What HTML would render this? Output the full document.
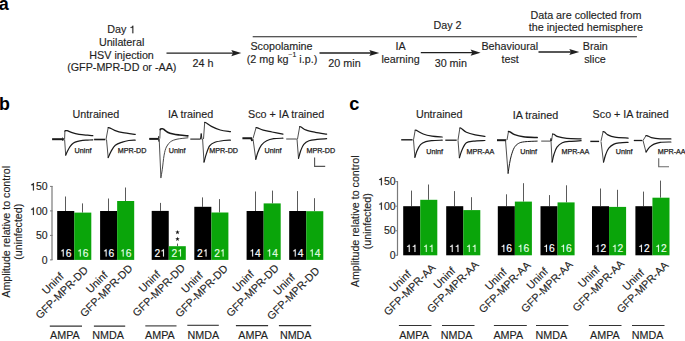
<!DOCTYPE html>
<html><head><meta charset="utf-8"><style>
html,body{margin:0;padding:0;background:#fff;width:685px;height:341px;overflow:hidden}
svg{display:block;font-family:"Liberation Sans", sans-serif}
</style></head><body>
<svg width="685" height="341" viewBox="0 0 685 341">
<rect width="685" height="341" fill="#fff"/>
<text x="-1.2" y="10" font-size="18" text-anchor="start" font-weight="bold" fill="#000">a</text>
<text x="107.36" y="33.2" font-size="10.75" fill="#1f1f1f" stroke="#1f1f1f" stroke-width="0.15" xml:space="preserve">Day </text>
<path transform="translate(129.46,33.2) scale(0.01075,-0.01075)" d="M359,0 L271,0 L271,502 L101,502 L101,566 C196,570 256,610 273,703 L359,703 Z" fill="#1f1f1f" stroke="#1f1f1f" stroke-width="13.95"/>
<text x="121.6" y="45.7" font-size="10.75" text-anchor="middle" font-weight="normal" fill="#1f1f1f" stroke="#1f1f1f" stroke-width="0.15">Unilateral</text>
<text x="121.6" y="58.5" font-size="10.75" text-anchor="middle" font-weight="normal" fill="#1f1f1f" stroke="#1f1f1f" stroke-width="0.15">HSV injection</text>
<text x="121.8" y="71" font-size="10.75" text-anchor="middle" font-weight="normal" fill="#1f1f1f" stroke="#1f1f1f" stroke-width="0.15">(GFP-MPR-DD or -AA)</text>
<text x="203" y="67" font-size="10.75" text-anchor="middle" font-weight="normal" fill="#1f1f1f" stroke="#1f1f1f" stroke-width="0.15">24 h</text>
<text x="281.5" y="50.2" font-size="10.75" text-anchor="middle" font-weight="normal" fill="#1f1f1f" stroke="#1f1f1f" stroke-width="0.15">Scopolamine</text>
<text x="344.5" y="67" font-size="10.75" text-anchor="middle" font-weight="normal" fill="#1f1f1f" stroke="#1f1f1f" stroke-width="0.15">20 min</text>
<text x="400.5" y="50.2" font-size="10.75" text-anchor="middle" font-weight="normal" fill="#1f1f1f" stroke="#1f1f1f" stroke-width="0.15">IA</text>
<text x="400.5" y="62.8" font-size="10.75" text-anchor="middle" font-weight="normal" fill="#1f1f1f" stroke="#1f1f1f" stroke-width="0.15">learning</text>
<text x="450.8" y="66.9" font-size="10.75" text-anchor="middle" font-weight="normal" fill="#1f1f1f" stroke="#1f1f1f" stroke-width="0.15">30 min</text>
<text x="447.5" y="28.5" font-size="10.75" text-anchor="middle" font-weight="normal" fill="#1f1f1f" stroke="#1f1f1f" stroke-width="0.15">Day 2</text>
<text x="509.8" y="50.1" font-size="10.75" text-anchor="middle" font-weight="normal" fill="#1f1f1f" stroke="#1f1f1f" stroke-width="0.15">Behavioural</text>
<text x="510.2" y="62.8" font-size="10.75" text-anchor="middle" font-weight="normal" fill="#1f1f1f" stroke="#1f1f1f" stroke-width="0.15">test</text>
<text x="595.3" y="50.3" font-size="10.75" text-anchor="middle" font-weight="normal" fill="#1f1f1f" stroke="#1f1f1f" stroke-width="0.15">Brain</text>
<text x="595" y="62.6" font-size="10.75" text-anchor="middle" font-weight="normal" fill="#1f1f1f" stroke="#1f1f1f" stroke-width="0.15">slice</text>
<text x="586" y="18.5" font-size="10.75" text-anchor="middle" font-weight="normal" fill="#1f1f1f" stroke="#1f1f1f" stroke-width="0.15">Data are collected from</text>
<text x="585.8" y="30.8" font-size="10.75" text-anchor="middle" font-weight="normal" fill="#1f1f1f" stroke="#1f1f1f" stroke-width="0.15">the injected hemisphere</text>
<text x="282.0" y="62.9" font-size="10.75" text-anchor="middle" fill="#1f1f1f" stroke="#1f1f1f" stroke-width="0.15">(2 mg kg<tspan font-size="6.8" dy="-5.6">&#8722;1</tspan><tspan dy="5.6"> i.p.)</tspan></text>
<line x1="252.7" y1="36.7" x2="636.9" y2="36.7" stroke="#1f1f1f" stroke-width="1.1"/>
<line x1="166.5" y1="53.1" x2="235.3" y2="53.1" stroke="#1f1f1f" stroke-width="1.35"/>
<path d="M241.3,53.1 L231.3,50 L233,53.1 L231.3,56.2 Z" fill="#1f1f1f"/>
<line x1="319.5" y1="53" x2="373.3" y2="53" stroke="#1f1f1f" stroke-width="1.35"/>
<path d="M379.3,53 L369.3,49.9 L371,53 L369.3,56.1 Z" fill="#1f1f1f"/>
<line x1="420.8" y1="52.65" x2="474.6" y2="52.65" stroke="#1f1f1f" stroke-width="1.35"/>
<path d="M480.6,52.65 L470.6,49.55 L472.3,52.65 L470.6,55.75 Z" fill="#1f1f1f"/>
<line x1="538.5" y1="52" x2="573.3" y2="52" stroke="#1f1f1f" stroke-width="1.45"/>
<path d="M579.3,52 L569.3,48.9 L571,52 L569.3,55.1 Z" fill="#1f1f1f"/>
<text x="-1.1" y="109.6" font-size="17.8" text-anchor="start" font-weight="bold" fill="#000">b</text>
<text x="349.2" y="110.1" font-size="18.2" text-anchor="start" font-weight="bold" fill="#000">c</text>
<text x="95.9" y="117.6" font-size="10.75" text-anchor="middle" font-weight="normal" fill="#1f1f1f" stroke="#1f1f1f" stroke-width="0.15">Untrained</text>
<text x="190.6" y="117.5" font-size="10.75" text-anchor="middle" font-weight="normal" fill="#1f1f1f" stroke="#1f1f1f" stroke-width="0.15">IA trained</text>
<text x="286.1" y="117.6" font-size="10.75" text-anchor="middle" font-weight="normal" fill="#1f1f1f" stroke="#1f1f1f" stroke-width="0.15">Sco + IA trained</text>
<text x="439.2" y="118.1" font-size="10.75" text-anchor="middle" font-weight="normal" fill="#1f1f1f" stroke="#1f1f1f" stroke-width="0.15">Untrained</text>
<text x="535.4" y="118.5" font-size="10.75" text-anchor="middle" font-weight="normal" fill="#1f1f1f" stroke="#1f1f1f" stroke-width="0.15">IA trained</text>
<text x="630.7" y="117.8" font-size="10.75" text-anchor="middle" font-weight="normal" fill="#1f1f1f" stroke="#1f1f1f" stroke-width="0.15">Sco + IA trained</text>
<path d="M52.1,139.2 L63.4,139.2" fill="none" stroke="#1a1a1a" stroke-width="2"/>
<path d="M62.6,137.6 L63.6,139.2 L62.6,140.9" fill="none" stroke="#1a1a1a" stroke-width="1"/>
<path d="M64.6,139.2 L64.9,131.2" fill="none" stroke="#3a3a3a" stroke-width="0.9"/>
<path d="M64.6,139.4 L65.7,155.2" fill="none" stroke="#3a3a3a" stroke-width="0.9"/>
<path d="M64.9,131.2 C64.97,131.1 64.92,130.68 65.3,130.6 C65.68,130.52 66.07,130.35 67.2,130.7 C68.33,131.05 70.12,132.1 72.1,132.7 C74.08,133.3 76.52,133.88 79.1,134.3 C81.68,134.72 85.32,134.98 87.6,135.2 C89.88,135.42 91.93,135.53 92.8,135.6" fill="none" stroke="#1a1a1a" stroke-width="1.25" stroke-linejoin="round" stroke-linecap="round"/>
<path d="M65.7,155.2 C65.95,154.63 66.48,153.23 67.2,151.8 C67.92,150.37 68.95,148.07 70,146.6 C71.05,145.13 72.22,143.88 73.5,143 C74.78,142.12 76.18,141.73 77.7,141.3 C79.22,140.87 80.95,140.6 82.6,140.4 C84.25,140.2 85.9,140.2 87.6,140.1 C89.3,140 91.93,139.85 92.8,139.8" fill="none" stroke="#1a1a1a" stroke-width="1.2" stroke-linejoin="round" stroke-linecap="round"/>
<text x="74.6" y="153.4" font-size="7.2" text-anchor="start" font-weight="normal" fill="#222" stroke="#222" stroke-width="0.25">Uninf</text>
<path d="M94.1,139.5 L105.3,139.5" fill="none" stroke="#1a1a1a" stroke-width="1.6"/>
<path d="M106,139.5 L108.2,127.6" fill="none" stroke="#3a3a3a" stroke-width="0.9"/>
<path d="M106.5,139.5 L108.2,157.6" fill="none" stroke="#3a3a3a" stroke-width="0.9"/>
<path d="M108.2,127.6 C108.42,127.63 108.43,127.35 109.5,127.8 C110.57,128.25 112.37,129.48 114.6,130.3 C116.83,131.12 119.47,132.02 122.9,132.7 C126.33,133.38 133.15,134.12 135.2,134.4" fill="none" stroke="#1a1a1a" stroke-width="1.25" stroke-linejoin="round" stroke-linecap="round"/>
<path d="M108.2,157.6 C108.7,156.52 110.02,153.15 111.2,151.1 C112.38,149.05 113.45,146.8 115.3,145.3 C117.15,143.8 120.07,142.9 122.3,142.1 C124.53,141.3 126.55,140.82 128.7,140.5 C130.85,140.18 134.12,140.25 135.2,140.2" fill="none" stroke="#1a1a1a" stroke-width="1.2" stroke-linejoin="round" stroke-linecap="round"/>
<text x="117.7" y="153.2" font-size="7.2" text-anchor="start" font-weight="normal" fill="#222" stroke="#222" stroke-width="0.25">MPR-DD</text>
<path d="M149.2,138.9 L158.4,138.9" fill="none" stroke="#1a1a1a" stroke-width="2"/>
<path d="M158.6,136.2 L158.8,141.6" fill="none" stroke="#1a1a1a" stroke-width="1"/>
<path d="M159.8,138.6 L160.2,129.6" fill="none" stroke="#3a3a3a" stroke-width="0.9"/>
<path d="M159.2,139 L160.9,177.7" fill="none" stroke="#3a3a3a" stroke-width="0.9"/>
<path d="M160.2,129.6 C160.28,129.48 160.37,129.05 160.7,128.9 C161.03,128.75 161.73,128.65 162.2,128.7 C162.67,128.75 162.6,128.62 163.5,129.2 C164.4,129.78 165.98,131.4 167.6,132.2 C169.22,133 171.2,133.53 173.2,134 C175.2,134.47 177.15,134.68 179.6,135 C182.05,135.32 186.52,135.75 187.9,135.9" fill="none" stroke="#1a1a1a" stroke-width="1.6" stroke-linejoin="round" stroke-linecap="round"/>
<path d="M160.9,177.7 C161.13,176.3 161.77,173.05 162.3,169.3 C162.83,165.55 163.42,158.92 164.1,155.2 C164.78,151.48 165.33,149.23 166.4,147 C167.47,144.77 168.73,143.1 170.5,141.8 C172.27,140.5 174.1,139.87 177,139.2 C179.9,138.53 186.08,138.03 187.9,137.8" fill="none" stroke="#333" stroke-width="0.9" stroke-linejoin="round" stroke-linecap="round"/>
<text x="168.7" y="153.4" font-size="7.2" text-anchor="start" font-weight="normal" fill="#222" stroke="#222" stroke-width="0.25">Uninf</text>
<path d="M190.3,139.1 L200.5,139.1" fill="none" stroke="#1a1a1a" stroke-width="1.1"/>
<path d="M200.5,139.1 L201.2,133.5 L202,139.5" fill="none" stroke="#1a1a1a" stroke-width="1"/>
<path d="M203.5,139 L204.7,122.4" fill="none" stroke="#3a3a3a" stroke-width="0.9"/>
<path d="M202.6,139 L204,162.2" fill="none" stroke="#3a3a3a" stroke-width="0.9"/>
<path d="M204.7,122.4 C204.92,122.47 204.88,122.13 206,122.8 C207.12,123.47 209.03,125.2 211.4,126.4 C213.77,127.6 217.03,129.12 220.2,130 C223.37,130.88 228.7,131.42 230.4,131.7" fill="none" stroke="#1a1a1a" stroke-width="1.25" stroke-linejoin="round" stroke-linecap="round"/>
<path d="M204,162.2 C204.35,160.93 205.17,157.33 206.1,154.6 C207.03,151.87 208.13,147.85 209.6,145.8 C211.07,143.75 212.55,143.18 214.9,142.3 C217.25,141.42 221.12,140.85 223.7,140.5 C226.28,140.15 229.28,140.25 230.4,140.2" fill="none" stroke="#1a1a1a" stroke-width="1.2" stroke-linejoin="round" stroke-linecap="round"/>
<text x="209.3" y="153.4" font-size="7.2" text-anchor="start" font-weight="normal" fill="#222" stroke="#222" stroke-width="0.25">MPR-DD</text>
<path d="M242.4,138.2 L251.2,138.2 L252.2,141" fill="none" stroke="#1a1a1a" stroke-width="2"/>
<path d="M253,138.5 L256.1,127.6" fill="none" stroke="#3a3a3a" stroke-width="0.9"/>
<path d="M253,139 L255.8,159.3" fill="none" stroke="#3a3a3a" stroke-width="0.9"/>
<path d="M256.1,127.6 C256.33,127.63 256.32,127.37 257.5,127.8 C258.68,128.23 260.78,129.5 263.2,130.2 C265.62,130.9 268.72,131.35 272,132 C275.28,132.65 281.08,133.75 282.9,134.1" fill="none" stroke="#1a1a1a" stroke-width="1.25" stroke-linejoin="round" stroke-linecap="round"/>
<path d="M255.8,159.3 C256.15,158.12 256.97,154.55 257.9,152.2 C258.83,149.85 259.93,147.1 261.4,145.2 C262.87,143.3 264.65,141.88 266.7,140.8 C268.75,139.72 271,139.13 273.7,138.7 C276.4,138.27 281.37,138.28 282.9,138.2" fill="none" stroke="#1a1a1a" stroke-width="1.2" stroke-linejoin="round" stroke-linecap="round"/>
<text x="264.6" y="153.1" font-size="7.2" text-anchor="start" font-weight="normal" fill="#222" stroke="#222" stroke-width="0.25">Uninf</text>
<path d="M286.2,139 L296.7,139" fill="none" stroke="#555" stroke-width="1.1"/>
<path d="M297.5,139 L299.7,126.7" fill="none" stroke="#3a3a3a" stroke-width="0.9"/>
<path d="M297,139 L298.5,158.4" fill="none" stroke="#3a3a3a" stroke-width="0.9"/>
<path d="M299.7,126.7 C299.92,126.75 299.88,126.42 301,127 C302.12,127.58 304.03,129.32 306.4,130.2 C308.77,131.08 311.83,131.65 315.2,132.3 C318.57,132.95 324.7,133.8 326.6,134.1" fill="none" stroke="#1a1a1a" stroke-width="1.25" stroke-linejoin="round" stroke-linecap="round"/>
<path d="M298.5,158.4 C298.88,157.08 299.92,152.85 300.8,150.5 C301.68,148.15 302.43,145.92 303.8,144.3 C305.17,142.68 306.8,141.62 309,140.8 C311.2,139.98 314.07,139.75 317,139.4 C319.93,139.05 325,138.82 326.6,138.7" fill="none" stroke="#1a1a1a" stroke-width="1.2" stroke-linejoin="round" stroke-linecap="round"/>
<text x="306.4" y="153.1" font-size="7.2" text-anchor="start" font-weight="normal" fill="#222" stroke="#222" stroke-width="0.25">MPR-DD</text>
<path d="M314.6,157.5 L314.6,166.4 L325.2,166.4" fill="none" stroke="#555" stroke-width="1.1"/>
<path d="M401.2,139.8 L412.6,139.8" fill="none" stroke="#1a1a1a" stroke-width="1.4"/>
<path d="M413.5,139.8 L415.2,130.2" fill="none" stroke="#3a3a3a" stroke-width="0.9"/>
<path d="M413.5,140 L414.9,157.4" fill="none" stroke="#3a3a3a" stroke-width="0.9"/>
<path d="M415.2,130.2 C415.42,130.23 415.17,129.77 416.5,130.4 C417.83,131.03 420.62,133.05 423.2,134 C425.78,134.95 428.83,135.6 432,136.1 C435.17,136.6 440.5,136.85 442.2,137" fill="none" stroke="#1a1a1a" stroke-width="1.25" stroke-linejoin="round" stroke-linecap="round"/>
<path d="M414.9,157.4 C415.25,156.3 416.07,152.93 417,150.8 C417.93,148.67 419.03,146.13 420.5,144.6 C421.97,143.07 423.88,142.27 425.8,141.6 C427.72,140.93 429.27,140.83 432,140.6 C434.73,140.37 440.5,140.27 442.2,140.2" fill="none" stroke="#1a1a1a" stroke-width="1.2" stroke-linejoin="round" stroke-linecap="round"/>
<text x="426.3" y="154.3" font-size="7.2" text-anchor="start" font-weight="normal" fill="#222" stroke="#222" stroke-width="0.25">Uninf</text>
<path d="M445.3,140.2 L456.7,140.2" fill="none" stroke="#1a1a1a" stroke-width="1.3"/>
<path d="M458,140 L459.9,127.9" fill="none" stroke="#3a3a3a" stroke-width="0.9"/>
<path d="M458,140.2 L459.4,157.8" fill="none" stroke="#3a3a3a" stroke-width="0.9"/>
<path d="M459.9,127.9 C460.08,127.95 459.92,127.47 461,128.2 C462.08,128.93 464.03,131.18 466.4,132.3 C468.77,133.42 472.12,134.23 475.2,134.9 C478.28,135.57 483.28,136.07 484.9,136.3" fill="none" stroke="#1a1a1a" stroke-width="1.25" stroke-linejoin="round" stroke-linecap="round"/>
<path d="M459.4,157.8 C459.83,156.48 460.83,152.4 462,149.9 C463.17,147.4 464.5,144.27 466.4,142.8 C468.3,141.33 470.32,141.48 473.4,141.1 C476.48,140.72 482.98,140.6 484.9,140.5" fill="none" stroke="#1a1a1a" stroke-width="1.2" stroke-linejoin="round" stroke-linecap="round"/>
<text x="466.4" y="153.9" font-size="7.2" text-anchor="start" font-weight="normal" fill="#222" stroke="#222" stroke-width="0.25">MPR-AA</text>
<path d="M497,140.2 L506.2,140.2" fill="none" stroke="#1a1a1a" stroke-width="2"/>
<path d="M507,140 L508.5,131.4" fill="none" stroke="#3a3a3a" stroke-width="0.9"/>
<path d="M505.5,140.2 L508.1,173.4" fill="none" stroke="#3a3a3a" stroke-width="0.9"/>
<path d="M508.5,131.4 C508.75,131.47 508.98,131.27 510,131.8 C511.02,132.33 512.37,133.78 514.6,134.6 C516.83,135.42 519.63,136.2 523.4,136.7 C527.17,137.2 534.9,137.45 537.2,137.6" fill="none" stroke="#1a1a1a" stroke-width="1.5" stroke-linejoin="round" stroke-linecap="round"/>
<path d="M508.1,173.4 C508.35,171.73 509.05,166.43 509.6,163.4 C510.15,160.37 510.62,157.83 511.4,155.2 C512.18,152.57 513.13,149.55 514.3,147.6 C515.47,145.65 516.73,144.47 518.4,143.5 C520.07,142.53 521.17,142.2 524.3,141.8 C527.43,141.4 535.05,141.22 537.2,141.1" fill="none" stroke="#1a1a1a" stroke-width="1.0" stroke-linejoin="round" stroke-linecap="round"/>
<text x="520.3" y="153.9" font-size="7.2" text-anchor="start" font-weight="normal" fill="#222" stroke="#222" stroke-width="0.25">Uninf</text>
<path d="M541.2,141.1 L550.5,141.1" fill="none" stroke="#555" stroke-width="1.1"/>
<path d="M550.5,141.1 L551,138.4 L551.6,141" fill="none" stroke="#1a1a1a" stroke-width="1"/>
<path d="M551.5,141 L552.6,134" fill="none" stroke="#3a3a3a" stroke-width="0.9"/>
<path d="M551,141 L552.1,162.2" fill="none" stroke="#3a3a3a" stroke-width="0.9"/>
<path d="M552.6,134 C552.83,134.05 553.12,133.85 554,134.3 C554.88,134.75 555.78,136.02 557.9,136.7 C560.02,137.38 562.83,138.05 566.7,138.4 C570.57,138.75 578.7,138.73 581.1,138.8" fill="none" stroke="#1a1a1a" stroke-width="1.25" stroke-linejoin="round" stroke-linecap="round"/>
<path d="M552.1,162.2 C552.42,160.88 553.18,156.8 554,154.3 C554.82,151.8 555.62,149.12 557,147.2 C558.38,145.28 560.13,143.78 562.3,142.8 C564.47,141.82 566.87,141.65 570,141.3 C573.13,140.95 579.25,140.8 581.1,140.7" fill="none" stroke="#1a1a1a" stroke-width="1.2" stroke-linejoin="round" stroke-linecap="round"/>
<text x="561.4" y="153.9" font-size="7.2" text-anchor="start" font-weight="normal" fill="#222" stroke="#222" stroke-width="0.25">MPR-AA</text>
<path d="M590.3,141.4 L599.1,141.4" fill="none" stroke="#1a1a1a" stroke-width="1.4"/>
<path d="M601,141 L603.1,131.7" fill="none" stroke="#3a3a3a" stroke-width="0.9"/>
<path d="M601,141.4 L603.5,162.2" fill="none" stroke="#3a3a3a" stroke-width="0.9"/>
<path d="M603.1,131.7 C603.33,131.75 603.7,131.47 604.5,132 C605.3,132.53 606.17,134.03 607.9,134.9 C609.63,135.77 611.53,136.67 614.9,137.2 C618.27,137.73 625.9,137.95 628.1,138.1" fill="none" stroke="#1a1a1a" stroke-width="1.25" stroke-linejoin="round" stroke-linecap="round"/>
<path d="M603.5,162.2 C603.88,160.88 604.92,156.65 605.8,154.3 C606.68,151.95 607.43,149.8 608.8,148.1 C610.17,146.4 612.13,144.98 614,144.1 C615.87,143.22 617.65,143.1 620,142.8 C622.35,142.5 626.75,142.38 628.1,142.3" fill="none" stroke="#1a1a1a" stroke-width="1.2" stroke-linejoin="round" stroke-linecap="round"/>
<text x="615.8" y="153.9" font-size="7.2" text-anchor="start" font-weight="normal" fill="#222" stroke="#222" stroke-width="0.25">Uninf</text>
<path d="M633.8,140.5 L642.3,140.5" fill="none" stroke="#1a1a1a" stroke-width="1.3"/>
<path d="M643,140.5 L646,135.6" fill="none" stroke="#3a3a3a" stroke-width="0.9"/>
<path d="M643,140.5 L646,152.1" fill="none" stroke="#3a3a3a" stroke-width="0.9"/>
<path d="M646,135.6 C646.25,135.63 646.6,135.47 647.5,135.8 C648.4,136.13 649.28,137.1 651.4,137.6 C653.52,138.1 656.95,138.58 660.2,138.8 C663.45,139.02 669.12,138.88 670.9,138.9" fill="none" stroke="#1a1a1a" stroke-width="1.25" stroke-linejoin="round" stroke-linecap="round"/>
<path d="M646,152.1 C646.6,151.28 648.27,148.53 649.6,147.2 C650.93,145.87 652.23,144.92 654,144.1 C655.77,143.28 657.38,142.65 660.2,142.3 C663.02,141.95 669.12,142.05 670.9,142" fill="none" stroke="#1a1a1a" stroke-width="1.2" stroke-linejoin="round" stroke-linecap="round"/>
<text x="657.7" y="154.3" font-size="7.2" text-anchor="start" font-weight="normal" fill="#222" stroke="#222" stroke-width="0.25">MPR-AA</text>
<path d="M658.7,158.2 L658.7,166.7 L669,166.7" fill="none" stroke="#6a6a6a" stroke-width="1.15"/>
<line x1="52" y1="185.9" x2="52" y2="259.9" stroke="#7a7a7a" stroke-width="1.2"/>
<line x1="50" y1="259.9" x2="52.5" y2="259.9" stroke="#7a7a7a" stroke-width="1"/>
<text x="41.76" y="263.9" font-size="10.5" fill="#1f1f1f" stroke="#1f1f1f" stroke-width="0.15" xml:space="preserve">0</text>
<line x1="50" y1="235.4" x2="52.5" y2="235.4" stroke="#7a7a7a" stroke-width="1"/>
<text x="35.92" y="239.4" font-size="10.5" fill="#1f1f1f" stroke="#1f1f1f" stroke-width="0.15" xml:space="preserve">50</text>
<line x1="50" y1="210.9" x2="52.5" y2="210.9" stroke="#7a7a7a" stroke-width="1"/>
<path transform="translate(30.08,214.9) scale(0.01050,-0.01050)" d="M359,0 L271,0 L271,502 L101,502 L101,566 C196,570 256,610 273,703 L359,703 Z" fill="#1f1f1f" stroke="#1f1f1f" stroke-width="14.29"/>
<text x="35.92" y="214.9" font-size="10.5" fill="#1f1f1f" stroke="#1f1f1f" stroke-width="0.15" xml:space="preserve">00</text>
<line x1="50" y1="186.4" x2="52.5" y2="186.4" stroke="#7a7a7a" stroke-width="1"/>
<path transform="translate(30.08,190.4) scale(0.01050,-0.01050)" d="M359,0 L271,0 L271,502 L101,502 L101,566 C196,570 256,610 273,703 L359,703 Z" fill="#1f1f1f" stroke="#1f1f1f" stroke-width="14.29"/>
<text x="35.92" y="190.4" font-size="10.5" fill="#1f1f1f" stroke="#1f1f1f" stroke-width="0.15" xml:space="preserve">50</text>
<line x1="65.5" y1="196.5" x2="65.5" y2="211" stroke="#5a5a5a" stroke-width="1"/>
<rect x="57.2" y="211" width="17.05" height="48.9" fill="#000"/>
<path transform="translate(60,256.5) scale(0.01030,-0.01030)" d="M359,0 L271,0 L271,502 L101,502 L101,566 C196,570 256,610 273,703 L359,703 Z" fill="#fff" stroke="#fff" stroke-width="14.56"/>
<text x="65.73" y="256.5" font-size="10.3" fill="#fff" stroke="#fff" stroke-width="0.15" xml:space="preserve">6</text>
<line x1="82.5" y1="203.4" x2="82.5" y2="212.6" stroke="#5a5a5a" stroke-width="1"/>
<rect x="74.25" y="212.6" width="17.05" height="47.3" fill="#0aa50a"/>
<path transform="translate(77.05,256.5) scale(0.01030,-0.01030)" d="M359,0 L271,0 L271,502 L101,502 L101,566 C196,570 256,610 273,703 L359,703 Z" fill="#e6ffe6" stroke="#e6ffe6" stroke-width="14.56"/>
<text x="82.78" y="256.5" font-size="10.3" fill="#e6ffe6" stroke="#e6ffe6" stroke-width="0.15" xml:space="preserve">6</text>
<line x1="108.5" y1="198.5" x2="108.5" y2="211" stroke="#5a5a5a" stroke-width="1"/>
<rect x="100.1" y="211" width="17.05" height="48.9" fill="#000"/>
<path transform="translate(102.9,256.5) scale(0.01030,-0.01030)" d="M359,0 L271,0 L271,502 L101,502 L101,566 C196,570 256,610 273,703 L359,703 Z" fill="#fff" stroke="#fff" stroke-width="14.56"/>
<text x="108.62" y="256.5" font-size="10.3" fill="#fff" stroke="#fff" stroke-width="0.15" xml:space="preserve">6</text>
<line x1="125.5" y1="187.5" x2="125.5" y2="201" stroke="#5a5a5a" stroke-width="1"/>
<rect x="117.15" y="201" width="17.05" height="58.9" fill="#0aa50a"/>
<path transform="translate(119.95,256.5) scale(0.01030,-0.01030)" d="M359,0 L271,0 L271,502 L101,502 L101,566 C196,570 256,610 273,703 L359,703 Z" fill="#e6ffe6" stroke="#e6ffe6" stroke-width="14.56"/>
<text x="125.67" y="256.5" font-size="10.3" fill="#e6ffe6" stroke="#e6ffe6" stroke-width="0.15" xml:space="preserve">6</text>
<line x1="160.5" y1="202.9" x2="160.5" y2="210.9" stroke="#5a5a5a" stroke-width="1"/>
<rect x="151.7" y="210.9" width="17.05" height="49" fill="#000"/>
<text x="154.5" y="256.5" font-size="10.3" fill="#fff" stroke="#fff" stroke-width="0.15" xml:space="preserve">2</text>
<path transform="translate(160.22,256.5) scale(0.01030,-0.01030)" d="M359,0 L271,0 L271,502 L101,502 L101,566 C196,570 256,610 273,703 L359,703 Z" fill="#fff" stroke="#fff" stroke-width="14.56"/>
<line x1="177.5" y1="243.6" x2="177.5" y2="246.2" stroke="#5a5a5a" stroke-width="1"/>
<rect x="168.75" y="246.2" width="17.05" height="13.7" fill="#0aa50a"/>
<text x="171.55" y="256.5" font-size="10.3" fill="#e6ffe6" stroke="#e6ffe6" stroke-width="0.15" xml:space="preserve">2</text>
<path transform="translate(177.28,256.5) scale(0.01030,-0.01030)" d="M359,0 L271,0 L271,502 L101,502 L101,566 C196,570 256,610 273,703 L359,703 Z" fill="#e6ffe6" stroke="#e6ffe6" stroke-width="14.56"/>
<line x1="202.5" y1="197.4" x2="202.5" y2="206.8" stroke="#5a5a5a" stroke-width="1"/>
<rect x="194.3" y="206.8" width="17.05" height="53.1" fill="#000"/>
<text x="197.1" y="256.5" font-size="10.3" fill="#fff" stroke="#fff" stroke-width="0.15" xml:space="preserve">2</text>
<path transform="translate(202.83,256.5) scale(0.01030,-0.01030)" d="M359,0 L271,0 L271,502 L101,502 L101,566 C196,570 256,610 273,703 L359,703 Z" fill="#fff" stroke="#fff" stroke-width="14.56"/>
<line x1="219.5" y1="199.1" x2="219.5" y2="212.5" stroke="#5a5a5a" stroke-width="1"/>
<rect x="211.35" y="212.5" width="17.05" height="47.4" fill="#0aa50a"/>
<text x="214.15" y="256.5" font-size="10.3" fill="#e6ffe6" stroke="#e6ffe6" stroke-width="0.15" xml:space="preserve">2</text>
<path transform="translate(219.88,256.5) scale(0.01030,-0.01030)" d="M359,0 L271,0 L271,502 L101,502 L101,566 C196,570 256,610 273,703 L359,703 Z" fill="#e6ffe6" stroke="#e6ffe6" stroke-width="14.56"/>
<line x1="255.5" y1="191.5" x2="255.5" y2="211" stroke="#5a5a5a" stroke-width="1"/>
<rect x="246.6" y="211" width="17.05" height="48.9" fill="#000"/>
<path transform="translate(249.4,256.5) scale(0.01030,-0.01030)" d="M359,0 L271,0 L271,502 L101,502 L101,566 C196,570 256,610 273,703 L359,703 Z" fill="#fff" stroke="#fff" stroke-width="14.56"/>
<text x="255.12" y="256.5" font-size="10.3" fill="#fff" stroke="#fff" stroke-width="0.15" xml:space="preserve">4</text>
<line x1="272.5" y1="190.6" x2="272.5" y2="203.4" stroke="#5a5a5a" stroke-width="1"/>
<rect x="263.65" y="203.4" width="17.05" height="56.5" fill="#0aa50a"/>
<path transform="translate(266.45,256.5) scale(0.01030,-0.01030)" d="M359,0 L271,0 L271,502 L101,502 L101,566 C196,570 256,610 273,703 L359,703 Z" fill="#e6ffe6" stroke="#e6ffe6" stroke-width="14.56"/>
<text x="272.17" y="256.5" font-size="10.3" fill="#e6ffe6" stroke="#e6ffe6" stroke-width="0.15" xml:space="preserve">4</text>
<line x1="297.5" y1="191.1" x2="297.5" y2="211" stroke="#5a5a5a" stroke-width="1"/>
<rect x="289.2" y="211" width="17.05" height="48.9" fill="#000"/>
<path transform="translate(292,256.5) scale(0.01030,-0.01030)" d="M359,0 L271,0 L271,502 L101,502 L101,566 C196,570 256,610 273,703 L359,703 Z" fill="#fff" stroke="#fff" stroke-width="14.56"/>
<text x="297.72" y="256.5" font-size="10.3" fill="#fff" stroke="#fff" stroke-width="0.15" xml:space="preserve">4</text>
<line x1="314.5" y1="198.2" x2="314.5" y2="211.2" stroke="#5a5a5a" stroke-width="1"/>
<rect x="306.25" y="211.2" width="17.05" height="48.7" fill="#0aa50a"/>
<path transform="translate(309.05,256.5) scale(0.01030,-0.01030)" d="M359,0 L271,0 L271,502 L101,502 L101,566 C196,570 256,610 273,703 L359,703 Z" fill="#e6ffe6" stroke="#e6ffe6" stroke-width="14.56"/>
<text x="314.77" y="256.5" font-size="10.3" fill="#e6ffe6" stroke="#e6ffe6" stroke-width="0.15" xml:space="preserve">4</text>
<text transform="translate(9.5,231.8) rotate(-90)" font-size="10.7" text-anchor="middle" fill="#1f1f1f" stroke="#1f1f1f" stroke-width="0.15">Amplitude relative to control</text>
<text transform="translate(21.5,231.8) rotate(-90)" font-size="10.6" text-anchor="middle" fill="#1f1f1f" stroke="#1f1f1f" stroke-width="0.15">(uninfected)</text>
<line x1="397.5" y1="181.15" x2="397.5" y2="255.3" stroke="#7a7a7a" stroke-width="1.2"/>
<line x1="395.5" y1="255.3" x2="398" y2="255.3" stroke="#7a7a7a" stroke-width="1"/>
<text x="389.76" y="258.9" font-size="10.5" fill="#1f1f1f" stroke="#1f1f1f" stroke-width="0.15" xml:space="preserve">0</text>
<line x1="395.5" y1="230.75" x2="398" y2="230.75" stroke="#7a7a7a" stroke-width="1"/>
<text x="383.92" y="234.35" font-size="10.5" fill="#1f1f1f" stroke="#1f1f1f" stroke-width="0.15" xml:space="preserve">50</text>
<line x1="395.5" y1="206.2" x2="398" y2="206.2" stroke="#7a7a7a" stroke-width="1"/>
<path transform="translate(378.08,209.8) scale(0.01050,-0.01050)" d="M359,0 L271,0 L271,502 L101,502 L101,566 C196,570 256,610 273,703 L359,703 Z" fill="#1f1f1f" stroke="#1f1f1f" stroke-width="14.29"/>
<text x="383.92" y="209.8" font-size="10.5" fill="#1f1f1f" stroke="#1f1f1f" stroke-width="0.15" xml:space="preserve">00</text>
<line x1="395.5" y1="181.65" x2="398" y2="181.65" stroke="#7a7a7a" stroke-width="1"/>
<path transform="translate(378.08,185.25) scale(0.01050,-0.01050)" d="M359,0 L271,0 L271,502 L101,502 L101,566 C196,570 256,610 273,703 L359,703 Z" fill="#1f1f1f" stroke="#1f1f1f" stroke-width="14.29"/>
<text x="383.92" y="185.25" font-size="10.5" fill="#1f1f1f" stroke="#1f1f1f" stroke-width="0.15" xml:space="preserve">50</text>
<line x1="411.5" y1="190.6" x2="411.5" y2="206.2" stroke="#5a5a5a" stroke-width="1"/>
<rect x="403.2" y="206.2" width="17.05" height="49.1" fill="#000"/>
<path transform="translate(406,251.9) scale(0.01030,-0.01030)" d="M359,0 L271,0 L271,502 L101,502 L101,566 C196,570 256,610 273,703 L359,703 Z" fill="#fff" stroke="#fff" stroke-width="14.56"/>
<path transform="translate(411.72,251.9) scale(0.01030,-0.01030)" d="M359,0 L271,0 L271,502 L101,502 L101,566 C196,570 256,610 273,703 L359,703 Z" fill="#fff" stroke="#fff" stroke-width="14.56"/>
<line x1="428.5" y1="184.5" x2="428.5" y2="199.8" stroke="#5a5a5a" stroke-width="1"/>
<rect x="420.25" y="199.8" width="17.05" height="55.5" fill="#0aa50a"/>
<path transform="translate(423.05,251.9) scale(0.01030,-0.01030)" d="M359,0 L271,0 L271,502 L101,502 L101,566 C196,570 256,610 273,703 L359,703 Z" fill="#e6ffe6" stroke="#e6ffe6" stroke-width="14.56"/>
<path transform="translate(428.77,251.9) scale(0.01030,-0.01030)" d="M359,0 L271,0 L271,502 L101,502 L101,566 C196,570 256,610 273,703 L359,703 Z" fill="#e6ffe6" stroke="#e6ffe6" stroke-width="14.56"/>
<line x1="454.5" y1="191.1" x2="454.5" y2="206.2" stroke="#5a5a5a" stroke-width="1"/>
<rect x="446.2" y="206.2" width="17.05" height="49.1" fill="#000"/>
<path transform="translate(449,251.9) scale(0.01030,-0.01030)" d="M359,0 L271,0 L271,502 L101,502 L101,566 C196,570 256,610 273,703 L359,703 Z" fill="#fff" stroke="#fff" stroke-width="14.56"/>
<path transform="translate(454.72,251.9) scale(0.01030,-0.01030)" d="M359,0 L271,0 L271,502 L101,502 L101,566 C196,570 256,610 273,703 L359,703 Z" fill="#fff" stroke="#fff" stroke-width="14.56"/>
<line x1="471.5" y1="197.2" x2="471.5" y2="210.1" stroke="#5a5a5a" stroke-width="1"/>
<rect x="463.25" y="210.1" width="17.05" height="45.2" fill="#0aa50a"/>
<path transform="translate(466.05,251.9) scale(0.01030,-0.01030)" d="M359,0 L271,0 L271,502 L101,502 L101,566 C196,570 256,610 273,703 L359,703 Z" fill="#e6ffe6" stroke="#e6ffe6" stroke-width="14.56"/>
<path transform="translate(471.77,251.9) scale(0.01030,-0.01030)" d="M359,0 L271,0 L271,502 L101,502 L101,566 C196,570 256,610 273,703 L359,703 Z" fill="#e6ffe6" stroke="#e6ffe6" stroke-width="14.56"/>
<line x1="506.5" y1="194.3" x2="506.5" y2="206.2" stroke="#5a5a5a" stroke-width="1"/>
<rect x="497.8" y="206.2" width="17.05" height="49.1" fill="#000"/>
<path transform="translate(500.6,251.9) scale(0.01030,-0.01030)" d="M359,0 L271,0 L271,502 L101,502 L101,566 C196,570 256,610 273,703 L359,703 Z" fill="#fff" stroke="#fff" stroke-width="14.56"/>
<text x="506.32" y="251.9" font-size="10.3" fill="#fff" stroke="#fff" stroke-width="0.15" xml:space="preserve">6</text>
<line x1="523.5" y1="183.2" x2="523.5" y2="201.6" stroke="#5a5a5a" stroke-width="1"/>
<rect x="514.85" y="201.6" width="17.05" height="53.7" fill="#0aa50a"/>
<path transform="translate(517.65,251.9) scale(0.01030,-0.01030)" d="M359,0 L271,0 L271,502 L101,502 L101,566 C196,570 256,610 273,703 L359,703 Z" fill="#e6ffe6" stroke="#e6ffe6" stroke-width="14.56"/>
<text x="523.38" y="251.9" font-size="10.3" fill="#e6ffe6" stroke="#e6ffe6" stroke-width="0.15" xml:space="preserve">6</text>
<line x1="549.5" y1="195.1" x2="549.5" y2="206.2" stroke="#5a5a5a" stroke-width="1"/>
<rect x="540.5" y="206.2" width="17.05" height="49.1" fill="#000"/>
<path transform="translate(543.3,251.9) scale(0.01030,-0.01030)" d="M359,0 L271,0 L271,502 L101,502 L101,566 C196,570 256,610 273,703 L359,703 Z" fill="#fff" stroke="#fff" stroke-width="14.56"/>
<text x="549.02" y="251.9" font-size="10.3" fill="#fff" stroke="#fff" stroke-width="0.15" xml:space="preserve">6</text>
<line x1="566.5" y1="185.3" x2="566.5" y2="202.4" stroke="#5a5a5a" stroke-width="1"/>
<rect x="557.55" y="202.4" width="17.05" height="52.9" fill="#0aa50a"/>
<path transform="translate(560.35,251.9) scale(0.01030,-0.01030)" d="M359,0 L271,0 L271,502 L101,502 L101,566 C196,570 256,610 273,703 L359,703 Z" fill="#e6ffe6" stroke="#e6ffe6" stroke-width="14.56"/>
<text x="566.07" y="251.9" font-size="10.3" fill="#e6ffe6" stroke="#e6ffe6" stroke-width="0.15" xml:space="preserve">6</text>
<line x1="600.5" y1="188.5" x2="600.5" y2="206.2" stroke="#5a5a5a" stroke-width="1"/>
<rect x="592" y="206.2" width="17.05" height="49.1" fill="#000"/>
<path transform="translate(594.8,251.9) scale(0.01030,-0.01030)" d="M359,0 L271,0 L271,502 L101,502 L101,566 C196,570 256,610 273,703 L359,703 Z" fill="#fff" stroke="#fff" stroke-width="14.56"/>
<text x="600.52" y="251.9" font-size="10.3" fill="#fff" stroke="#fff" stroke-width="0.15" xml:space="preserve">2</text>
<line x1="617.5" y1="189.8" x2="617.5" y2="206.9" stroke="#5a5a5a" stroke-width="1"/>
<rect x="609.05" y="206.9" width="17.05" height="48.4" fill="#0aa50a"/>
<path transform="translate(611.85,251.9) scale(0.01030,-0.01030)" d="M359,0 L271,0 L271,502 L101,502 L101,566 C196,570 256,610 273,703 L359,703 Z" fill="#e6ffe6" stroke="#e6ffe6" stroke-width="14.56"/>
<text x="617.57" y="251.9" font-size="10.3" fill="#e6ffe6" stroke="#e6ffe6" stroke-width="0.15" xml:space="preserve">2</text>
<line x1="643.5" y1="191.6" x2="643.5" y2="206.2" stroke="#5a5a5a" stroke-width="1"/>
<rect x="635.4" y="206.2" width="17.05" height="49.1" fill="#000"/>
<path transform="translate(638.2,251.9) scale(0.01030,-0.01030)" d="M359,0 L271,0 L271,502 L101,502 L101,566 C196,570 256,610 273,703 L359,703 Z" fill="#fff" stroke="#fff" stroke-width="14.56"/>
<text x="643.92" y="251.9" font-size="10.3" fill="#fff" stroke="#fff" stroke-width="0.15" xml:space="preserve">2</text>
<line x1="660.5" y1="180.6" x2="660.5" y2="197.7" stroke="#5a5a5a" stroke-width="1"/>
<rect x="652.45" y="197.7" width="17.05" height="57.6" fill="#0aa50a"/>
<path transform="translate(655.25,251.9) scale(0.01030,-0.01030)" d="M359,0 L271,0 L271,502 L101,502 L101,566 C196,570 256,610 273,703 L359,703 Z" fill="#e6ffe6" stroke="#e6ffe6" stroke-width="14.56"/>
<text x="660.97" y="251.9" font-size="10.3" fill="#e6ffe6" stroke="#e6ffe6" stroke-width="0.15" xml:space="preserve">2</text>
<text transform="translate(359.1,221.3) rotate(-90)" font-size="10.7" text-anchor="middle" fill="#1f1f1f" stroke="#1f1f1f" stroke-width="0.15">Amplitude relative to control</text>
<text transform="translate(371.4,221.3) rotate(-90)" font-size="10.6" text-anchor="middle" fill="#1f1f1f" stroke="#1f1f1f" stroke-width="0.15">(uninfected)</text>
<path d="M177.5,229.95 L178.09,231.49 L179.73,231.57 L178.45,232.61 L178.88,234.2 L177.5,233.3 L176.12,234.2 L176.55,232.61 L175.27,231.57 L176.91,231.49 Z" fill="#1a1a1a"/>
<path d="M177.5,236.65 L178.09,238.19 L179.73,238.27 L178.45,239.31 L178.88,240.9 L177.5,240 L176.12,240.9 L176.55,239.31 L175.27,238.27 L176.91,238.19 Z" fill="#1a1a1a"/>
<text transform="translate(64.43,277.2) rotate(-45)" font-size="10.8" text-anchor="end" fill="#1f1f1f" stroke="#1f1f1f" stroke-width="0.15">Uninf</text>
<text transform="translate(88.78,270.8) rotate(-45)" font-size="10.8" text-anchor="end" fill="#1f1f1f" stroke="#1f1f1f" stroke-width="0.15">GFP-MPR-DD</text>
<text transform="translate(108.42,275.9) rotate(-45)" font-size="10.8" text-anchor="end" fill="#1f1f1f" stroke="#1f1f1f" stroke-width="0.15">Uninf</text>
<text transform="translate(133.18,268.9) rotate(-45)" font-size="10.8" text-anchor="end" fill="#1f1f1f" stroke="#1f1f1f" stroke-width="0.15">GFP-MPR-DD</text>
<text transform="translate(161.02,275.1) rotate(-45)" font-size="10.8" text-anchor="end" fill="#1f1f1f" stroke="#1f1f1f" stroke-width="0.15">Uninf</text>
<text transform="translate(185.88,268.5) rotate(-45)" font-size="10.8" text-anchor="end" fill="#1f1f1f" stroke="#1f1f1f" stroke-width="0.15">GFP-MPR-DD</text>
<text transform="translate(203.62,276) rotate(-45)" font-size="10.8" text-anchor="end" fill="#1f1f1f" stroke="#1f1f1f" stroke-width="0.15">Uninf</text>
<text transform="translate(228.48,269.3) rotate(-45)" font-size="10.8" text-anchor="end" fill="#1f1f1f" stroke="#1f1f1f" stroke-width="0.15">GFP-MPR-DD</text>
<text transform="translate(254.72,274.9) rotate(-45)" font-size="10.8" text-anchor="end" fill="#1f1f1f" stroke="#1f1f1f" stroke-width="0.15">Uninf</text>
<text transform="translate(279.57,268.8) rotate(-45)" font-size="10.8" text-anchor="end" fill="#1f1f1f" stroke="#1f1f1f" stroke-width="0.15">GFP-MPR-DD</text>
<text transform="translate(295.52,278.1) rotate(-45)" font-size="10.8" text-anchor="end" fill="#1f1f1f" stroke="#1f1f1f" stroke-width="0.15">Uninf</text>
<text transform="translate(320.27,271.6) rotate(-45)" font-size="10.8" text-anchor="end" fill="#1f1f1f" stroke="#1f1f1f" stroke-width="0.15">GFP-MPR-DD</text>
<text transform="translate(411.92,274.9) rotate(-45)" font-size="10.8" text-anchor="end" fill="#1f1f1f" stroke="#1f1f1f" stroke-width="0.15">Uninf</text>
<text transform="translate(436.07,268.3) rotate(-45)" font-size="10.8" text-anchor="end" fill="#1f1f1f" stroke="#1f1f1f" stroke-width="0.15">GFP-MPR-AA</text>
<text transform="translate(455.82,271.6) rotate(-45)" font-size="10.8" text-anchor="end" fill="#1f1f1f" stroke="#1f1f1f" stroke-width="0.15">Uninf</text>
<text transform="translate(479.38,265.5) rotate(-45)" font-size="10.8" text-anchor="end" fill="#1f1f1f" stroke="#1f1f1f" stroke-width="0.15">GFP-MPR-AA</text>
<text transform="translate(507.42,272.9) rotate(-45)" font-size="10.8" text-anchor="end" fill="#1f1f1f" stroke="#1f1f1f" stroke-width="0.15">Uninf</text>
<text transform="translate(531.27,265.8) rotate(-45)" font-size="10.8" text-anchor="end" fill="#1f1f1f" stroke="#1f1f1f" stroke-width="0.15">GFP-MPR-AA</text>
<text transform="translate(548.73,272.2) rotate(-45)" font-size="10.8" text-anchor="end" fill="#1f1f1f" stroke="#1f1f1f" stroke-width="0.15">Uninf</text>
<text transform="translate(573.37,265.2) rotate(-45)" font-size="10.8" text-anchor="end" fill="#1f1f1f" stroke="#1f1f1f" stroke-width="0.15">GFP-MPR-AA</text>
<text transform="translate(600.33,270.5) rotate(-45)" font-size="10.8" text-anchor="end" fill="#1f1f1f" stroke="#1f1f1f" stroke-width="0.15">Uninf</text>
<text transform="translate(624.87,264.3) rotate(-45)" font-size="10.8" text-anchor="end" fill="#1f1f1f" stroke="#1f1f1f" stroke-width="0.15">GFP-MPR-AA</text>
<text transform="translate(644.83,273.5) rotate(-45)" font-size="10.8" text-anchor="end" fill="#1f1f1f" stroke="#1f1f1f" stroke-width="0.15">Uninf</text>
<text transform="translate(669.17,265.9) rotate(-45)" font-size="10.8" text-anchor="end" fill="#1f1f1f" stroke="#1f1f1f" stroke-width="0.15">GFP-MPR-AA</text>
<line x1="49.8" y1="326.1" x2="82" y2="326.1" stroke="#333" stroke-width="1.1"/>
<text x="50.1" y="338.5" font-size="10.75" text-anchor="start" font-weight="normal" fill="#1f1f1f" stroke="#1f1f1f" stroke-width="0.15">AMPA</text>
<line x1="93.9" y1="326.1" x2="125.2" y2="326.1" stroke="#333" stroke-width="1.1"/>
<text x="92.2" y="338.5" font-size="10.75" text-anchor="start" font-weight="normal" fill="#1f1f1f" stroke="#1f1f1f" stroke-width="0.15">NMDA</text>
<line x1="145.3" y1="325.9" x2="176.5" y2="325.9" stroke="#333" stroke-width="1.1"/>
<text x="145" y="338.5" font-size="10.75" text-anchor="start" font-weight="normal" fill="#1f1f1f" stroke="#1f1f1f" stroke-width="0.15">AMPA</text>
<line x1="187.3" y1="325.3" x2="218.8" y2="325.3" stroke="#333" stroke-width="1.1"/>
<text x="187.6" y="338.5" font-size="10.75" text-anchor="start" font-weight="normal" fill="#1f1f1f" stroke="#1f1f1f" stroke-width="0.15">NMDA</text>
<line x1="235.9" y1="325.6" x2="268.1" y2="325.6" stroke="#333" stroke-width="1.1"/>
<text x="238.3" y="338.5" font-size="10.75" text-anchor="start" font-weight="normal" fill="#1f1f1f" stroke="#1f1f1f" stroke-width="0.15">AMPA</text>
<line x1="278.9" y1="325.6" x2="311.2" y2="325.6" stroke="#333" stroke-width="1.1"/>
<text x="279.9" y="338.5" font-size="10.75" text-anchor="start" font-weight="normal" fill="#1f1f1f" stroke="#1f1f1f" stroke-width="0.15">NMDA</text>
<line x1="398.9" y1="325.5" x2="431.5" y2="325.5" stroke="#333" stroke-width="1.1"/>
<text x="399.2" y="338.5" font-size="10.75" text-anchor="start" font-weight="normal" fill="#1f1f1f" stroke="#1f1f1f" stroke-width="0.15">AMPA</text>
<line x1="442" y1="325.5" x2="474.5" y2="325.5" stroke="#333" stroke-width="1.1"/>
<text x="440.7" y="338.5" font-size="10.75" text-anchor="start" font-weight="normal" fill="#1f1f1f" stroke="#1f1f1f" stroke-width="0.15">NMDA</text>
<line x1="493.9" y1="325.5" x2="526.8" y2="325.5" stroke="#333" stroke-width="1.1"/>
<text x="493.4" y="338.5" font-size="10.75" text-anchor="start" font-weight="normal" fill="#1f1f1f" stroke="#1f1f1f" stroke-width="0.15">AMPA</text>
<line x1="536" y1="325.5" x2="568.4" y2="325.5" stroke="#333" stroke-width="1.1"/>
<text x="535.5" y="338.5" font-size="10.75" text-anchor="start" font-weight="normal" fill="#1f1f1f" stroke="#1f1f1f" stroke-width="0.15">NMDA</text>
<line x1="588.9" y1="325.5" x2="621.5" y2="325.5" stroke="#333" stroke-width="1.1"/>
<text x="590" y="338.5" font-size="10.75" text-anchor="start" font-weight="normal" fill="#1f1f1f" stroke="#1f1f1f" stroke-width="0.15">AMPA</text>
<line x1="632" y1="325.5" x2="664.5" y2="325.5" stroke="#333" stroke-width="1.1"/>
<text x="631.8" y="338.5" font-size="10.75" text-anchor="start" font-weight="normal" fill="#1f1f1f" stroke="#1f1f1f" stroke-width="0.15">NMDA</text>
</svg>
</body></html>
